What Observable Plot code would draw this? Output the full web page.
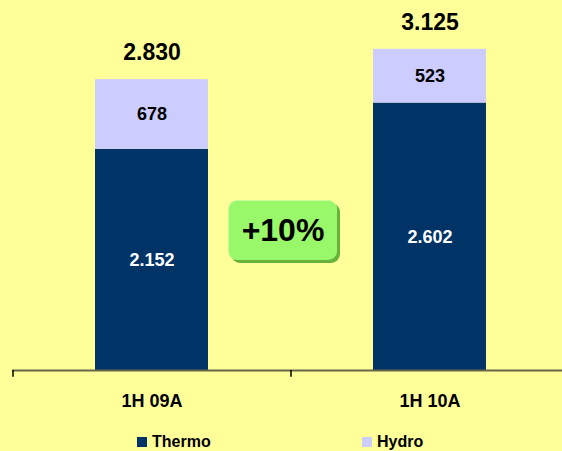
<!DOCTYPE html>
<html>
<head>
<meta charset="utf-8">
<script src="https://cdn.jsdelivr.net/npm/d3@7"></script>
<script src="https://cdn.jsdelivr.net/npm/@observablehq/plot@0.6"></script>
<style>
  html, body { margin: 0; padding: 0; background: #FFFF99; }
  #wrap { position: relative; width: 562px; height: 451px; background: #FFFF99; overflow: hidden;
          font-family: "Liberation Sans", Arial, sans-serif; }
  #chart svg { display: block; }
  .badge { position: absolute; left: 228px; top: 200px; width: 108px; height: 59px;
           background: #99F86A; border-radius: 9px; border-top: 1px solid #CCFF99; border-left: 1px solid #CCFF99;
           box-shadow: 3px 3px 0 #66B23A;
           display: flex; align-items: center; justify-content: center;
           font-weight: bold; font-size: 32px; color: #000; }
  .legend { position: absolute; top: 433px; display: flex; align-items: center; font-weight: bold; font-size: 16px; color: #000; }
  .legend .sw { width: 10px; height: 10px; margin-right: 5px; }
</style>
</head>
<body>
<div id="wrap">
  <div id="chart"></div>
  <div class="badge">+10%</div>
  <div id="legend"></div>
</div>
<script>
const categories = ["1H 09A", "1H 10A"];
const series = ["Thermo", "Hydro"];
const colors = ["#003366", "#CCCCFF"];
const labelColors = ["#FFFFFF", "#000000"];
const thermo = [2152, 2602];
const hydro = [678, 523];

const fmt = d3.formatLocale({decimal: ",", thousands: ".", grouping: [3], currency: ["", ""]}).format(",d");

const values = [thermo, hydro];
const data = [];
categories.forEach((c, i) => {
  let base = 0;
  series.forEach((s, j) => {
    const v = values[j][i];
    data.push({period: c, series: s, value: v, mid: base + v / 2, labelColor: labelColors[j]});
    base += v;
  });
});
const totals = categories.map((c, i) => ({period: c, total: thermo[i] + hydro[i]}));

const x0 = 12, x1 = 568;
const step = (x1 - x0) / categories.length;

const chart = Plot.plot({
  width: 562,
  height: 425,
  marginTop: 0,
  marginBottom: 55,
  marginLeft: 12,
  marginRight: 0,
  style: {background: "transparent", fontFamily: "'Liberation Sans', Arial, sans-serif", color: "#000"},
  x: {domain: categories, range: [x0, x1], paddingInner: 0.594, paddingOuter: 0.297, label: null},
  y: {domain: [0, 3600], axis: null},
  color: {domain: series, range: colors},
  marks: [
    Plot.barY(data, {x: "period", y: "value", fill: "series", order: series}),
    Plot.text(data, {x: "period", y: "mid", text: d => fmt(d.value), fill: "labelColor",
      fontSize: 18, fontWeight: "bold"}),
    Plot.text(totals, {x: "period", y: "total", text: d => fmt(d.total), fill: "#000",
      fontSize: 23, fontWeight: "bold", dy: -27}),
    Plot.ruleY([0], {stroke: "#66664A", strokeWidth: 2}),
    Plot.ruleX(categories, {x: d => d, y1: 0, y2: -65, dx: -step / 2, stroke: "#000", strokeWidth: 1.5}),
    Plot.axisX({tickSize: 0, tickPadding: 24, fontSize: 18, fontWeight: "bold", fill: "#000", label: null})
  ]
});
document.getElementById("chart").appendChild(chart);

const legendPos = [137, 362];
const legend = document.getElementById("legend");
series.forEach((s, i) => {
  const item = document.createElement("div");
  item.className = "legend";
  item.style.left = legendPos[i] + "px";
  item.innerHTML = `<div class="sw" style="background:${colors[i]}"></div><span>${s}</span>`;
  legend.appendChild(item);
});
</script>
</body>
</html>
